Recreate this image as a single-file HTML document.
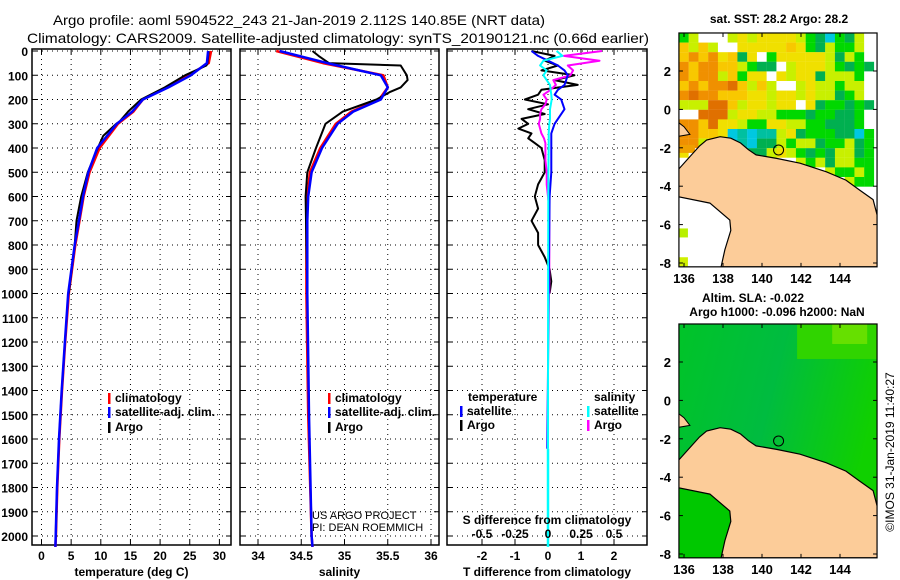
<!DOCTYPE html>
<html><head><meta charset="utf-8"><style>
body{margin:0;background:#fff}
svg{display:block}
text{font-family:"Liberation Sans",Arial,sans-serif;font-weight:bold;fill:#000}
</style></head><body>
<svg id="fig" width="900" height="580" viewBox="0 0 900 580" xmlns="http://www.w3.org/2000/svg">
<text x="299" y="25" font-size="14" text-anchor="middle" textLength="492" lengthAdjust="spacingAndGlyphs" style="font-weight:normal">Argo profile: aoml 5904522_243 21-Jan-2019 2.112S 140.85E (NRT data)</text>
<text x="338" y="43" font-size="14" text-anchor="middle" textLength="622" lengthAdjust="spacingAndGlyphs" style="font-weight:normal">Climatology: CARS2009. Satellite-adjusted climatology: synTS_20190121.nc (0.66d earlier)</text>
<g id="g"></g>
</svg>
<script>
// ---------- data ----------
const depthTicks=[0,100,200,300,400,500,600,700,800,900,1000,1100,1200,1300,1400,1500,1600,1700,1800,1900,2000];
const tTicks=[0,5,10,15,20,25,30];
const sTicks=[34,34.5,35,35.5,36];
const dTTicks=[-2,-1,0,1,2];
const dSTicks=[-0.5,-0.25,0,0.25,0.5];
const climTDepth=[0,50,100,150,200,250,300,400,500,600,700,800,1000,1200,1400,1600,1800,2000,2045];
const climT=[28.6,28.2,24.8,21.1,17.1,15.5,12.9,9.8,8.1,7.1,6.4,5.7,4.6,4.0,3.45,3.0,2.66,2.43,2.35];
const satT=[28.1,27.9,25.2,21.4,17.1,15.3,12.7,9.4,7.9,7.0,6.3,5.6,4.5,3.95,3.4,2.95,2.62,2.4,2.34];
const argoTDepth=[0,50,60,100,150,200,250,290,300,350,400,500,600,700,800,900,1000];
const argoT=[28.2,28.0,27.8,24.2,20.8,16.8,14.6,13.2,12.6,10.4,9.5,7.8,6.7,5.9,5.6,5.1,4.6];
const climSDepth=[0,50,100,150,200,250,300,400,500,600,700,1000,1500,2000,2045];
const climS=[34.21,34.75,35.45,35.5,35.4,35.08,34.9,34.72,34.6,34.57,34.56,34.56,34.58,34.62,34.63];
const satS=[34.25,34.8,35.42,35.5,35.42,35.1,34.92,34.74,34.62,34.58,34.57,34.57,34.59,34.62,34.63];
const argoSDepth=[0,20,50,60,100,120,150,170,200,250,300,400,500,600,800,1000];
const argoS=[34.63,34.7,34.82,35.65,35.72,35.73,35.65,35.52,35.37,34.98,34.78,34.67,34.57,34.55,34.56,34.57];
const dDepth=[0,20,40,60,80,100,120,140,160,180,200,220,240,260,280,300,320,340,360,380,400,450,500,550,600,650,700,750,800,850,900,950,1000];
const dTArgo=[-0.5,0.2,-0.1,0.3,-0.2,0.8,0.2,0.9,-0.2,-0.3,-0.7,0.0,-0.6,-0.1,-0.8,-0.6,-0.9,-0.5,-0.6,-0.4,-0.2,-0.1,-0.1,-0.3,-0.4,-0.3,-0.5,-0.3,-0.3,-0.1,0.05,0.1,0.05];
const dSArgo=[0.41,0.12,0.39,0.15,0.19,0.17,0.04,0.06,0.02,-0.035,-0.01,-0.02,-0.05,-0.06,-0.06,-0.07,-0.06,-0.05,-0.03,-0.02,-0.02,-0.02,-0.01,-0.01,0,0.01,0.01,0.01,0.01,0.01,0.01,0.01,0.01];
const dSatDepth=[0,20,40,60,80,100,140,160,180,200,240,280,300,340,400,500,600,1000,1640];
const dTSat=[-0.5,-0.3,0.0,0.3,0.5,0.6,0.5,0.3,0.2,0.4,0.5,0.3,0.2,0.1,0.1,0.1,0.05,0.02,-0.02];
const dSSat=[0.065,0.11,-0.035,-0.06,-0.01,-0.035,0.015,0.02,0.025,0.028,0.015,0.015,0.01,0.005,0.005,0.003,0.002,0.001,0];
const mapXTicks=[136,138,140,142,144];
const mapYTicks=[2,0,-2,-4,-6,-8];
const sstRows=["glwwwlylyyyylgGcgGlw","YlYlwwyyyyyYygGlgglw","YoYoyYGywgyyyyylGlgw","oYooYYlgGGwlyyylgGgG","oYoolYgyywylyyGlllgw","YoYooOYlYlwwlyllgllw","oOooYYYyylyylyllGglw","lllOOYlyylyywyGggGgG","wwOOOlyyllgggGggGGgw","ooYOyylggyyllggGGGgw","ooYYyctcttlyGgggGGcg","oolllctcGGlgllGgglGg","ywwwwwwGGlylgGgGllGg","wwwwwwwwwwwwlglGllgg","wwwwwwwwwwwwwwwlgglg","wwwwwwwwwwwwwwwwwlgg"];
const coast=[[135.74,-3.1],[136.3,-2.46],[136.8,-1.9],[137.16,-1.6],[137.85,-1.42],[138.4,-1.5],[138.9,-1.75],[139.3,-2.1],[139.7,-2.37],[140.75,-2.55],[141.95,-2.8],[143.3,-3.25],[144.3,-3.68],[145.0,-4.2],[145.7,-4.7],[145.9,-5.5],[145.9,-8.2],[137.9,-8.2],[138.1,-7.3],[138.4,-6.3],[138.35,-5.76],[137.33,-4.88],[135.74,-4.55]];
const island=[[135.74,-0.7],[136.0,-0.9],[136.3,-1.3],[135.74,-1.4]];
const floatPos=[140.85,-2.112];

// ---------- helpers ----------
const NS="http://www.w3.org/2000/svg";const G=document.getElementById('g');
function el(t,a,p){const e=document.createElementNS(NS,t);for(const k in a)e.setAttribute(k,a[k]);(p||G).appendChild(e);return e;}
function txt(x,y,s,sz,anchor,p){const e=el('text',{x:x,y:y,'font-size':sz,'text-anchor':anchor||'start'},p);e.textContent=s;return e;}
const TOP=49,BOT=545;
const yD=d=>TOP+2+d*0.2425;
const xT=v=>41.5+v*5.93;
const xS=v=>258+(v-34)*86.5;
const xDT=v=>548+v*33;
const xDS=v=>548+v*132;

function panel(x0,x1,name,vt,fx,labels,title){
  const g=el('g',{});
  
  
  for(const d of depthTicks){const l=el('line',{x1:x0,x2:x1,y1:yD(d),y2:yD(d),stroke:'#000','stroke-width':1,'stroke-dasharray':'1,4'},g);
    
    el('line',{x1:x0,x2:x0+5,y1:yD(d),y2:yD(d),stroke:'#000'},g);el('line',{x1:x1-5,x2:x1,y1:yD(d),y2:yD(d),stroke:'#000'},g);}
  vt.forEach((v,i)=>{const x=fx(v);const l=el('line',{x1:x,x2:x,y1:TOP,y2:BOT,stroke:'#000','stroke-width':1,'stroke-dasharray':'1,4'},g);
    
    el('line',{x1:x,x2:x,y1:TOP,y2:TOP+5,stroke:'#000'},g);el('line',{x1:x,x2:x,y1:BOT-5,y2:BOT,stroke:'#000'},g);
    if(labels){const t=txt(x,560,labels[i],12,'middle',g);}});
  const r=el('rect',{x:x0,y:TOP,width:x1-x0,height:BOT-TOP,fill:'none',stroke:'#000','stroke-width':1.5},g);
  
  const t=txt((x0+x1)/2,576,title,12,'middle',g);
  return g;
}
function line(g,xs,ds,fx,color,name,w){
  const pts=xs.map((v,i)=>fx(v).toFixed(1)+','+yD(ds[i]).toFixed(1)).join(' ');
  const p=el('polyline',{points:pts,fill:'none',stroke:color,'stroke-width':w||2.5,'stroke-linejoin':'round'},g);
  return p;
}
function legend(g,x,y,color,label){const r=el('rect',{x:x,y:y-9,width:2.5,height:11,fill:color},g);
  
  const t=txt(x+7,y,label,12,'start',g);}

for(const d of depthTicks){const t=txt(28,yD(d)+5,String(d),12,'end');}

const p1=panel(32,231,'temperature-panel',tTicks,xT,tTicks.map(String),'temperature (deg C)');
line(p1,climT,climTDepth,xT,'#f00','climatology-temperature-line');
line(p1,argoT,argoTDepth,xT,'#000','argo-temperature-line',2);
line(p1,satT,climTDepth,xT,'#00f','satellite-temperature-line');
legend(p1,108,402,'#f00','climatology');legend(p1,108,416,'#00f','satellite-adj. clim.');legend(p1,108,431,'#000','Argo');

const p2=panel(240,439,'salinity-panel',sTicks,xS,['34','34.5','35','35.5','36'],'salinity');
line(p2,climS,climSDepth,xS,'#f00','climatology-salinity-line');
line(p2,argoS,argoSDepth,xS,'#000','argo-salinity-line',2);
line(p2,satS,climSDepth,xS,'#00f','satellite-salinity-line');
legend(p2,328,402,'#f00','climatology');legend(p2,328,416,'#00f','satellite-adj. clim.');legend(p2,328,431,'#000','Argo');
let c1=txt(312,519,'US ARGO PROJECT',11,'start',p2);c1.style.fontWeight='normal';
let c2=txt(312,531,'PI: DEAN ROEMMICH',11,'start',p2);c2.style.fontWeight='normal';

const p3=panel(447,647,'difference-panel',dTTicks,xDT,dTTicks.map(String),'T difference from climatology');
line(p3,dTArgo,dDepth,xDT,'#000','argo-temperature-difference-line',2);
line(p3,dSArgo,dDepth,xDS,'#f0f','argo-salinity-difference-line',2);
line(p3,dTSat,dSatDepth,xDT,'#00f','satellite-temperature-difference-line',2);
line(p3,dSSat,dSatDepth,xDS,'#0ff','satellite-salinity-difference-line',2);
let sl=el('line',{x1:xDS(0),x2:xDS(0),y1:yD(1640),y2:yD(2045),stroke:'#0ff','stroke-width':2.5},p3);

let lt=txt(468,401,'temperature',12,'start',p3);
legend(p3,460,415,'#00f','satellite');legend(p3,460,429,'#000','Argo');
let ls=txt(594,401,'salinity',12,'start',p3);
legend(p3,587,415,'#0ff','satellite');legend(p3,587,429,'#f0f','Argo');
let st=txt(547,524,'S difference from climatology',12,'middle',p3);
dSTicks.forEach(v=>{const t=txt(xDS(v),538,String(v),12,'middle',p3);});

// ---------- maps ----------
const LON0=135.74,LON1=145.9,LAT0=3.98,LAT1=-8.2;
const mx=l=>684+(l-136)*19.5;
function map(off,name,kind){
  const g=el('g',{});
  const my=l=>off+71+(2-l)*19.2;
  const cid='clip'+off;const cp=el('clipPath',{id:cid},g);el('rect',{x:mx(LON0),y:my(LAT0),width:mx(LON1)-mx(LON0),height:my(LAT1)-my(LAT0)},cp);
  const inner=el('g',{'clip-path':'url(#'+cid+')'},g);
  if(kind==='sst'){
    el('rect',{x:mx(LON0),y:my(LAT0),width:200,height:240,fill:'#fff'},inner);
    const col={o:'#f09000',O:'#e07000',y:'#f0e000',Y:'#f8c800',l:'#c8f000',g:'#00d800',G:'#00b050',t:'#00c0a0',c:'#00c8e0',w:'#ffffff'};
    sstRows.forEach((r,i)=>{for(let j=0;j<r.length;j++){const cell=el('rect',{x:mx(LON0+j*0.5),y:my(LAT0-i*0.5),width:9.9,height:9.7,fill:col[r[j]]},inner);
      }});
    el('rect',{x:mx(LON0),y:my(-6.2),width:9,height:9,fill:'#b8f000'},inner);
    el('rect',{x:mx(LON0),y:my(-7.7),width:9,height:9,fill:'#d0f000'},inner);
    el('rect',{x:mx(LON0),y:my(-1.85),width:16,height:8,fill:'#f0a000'},inner);
  } else {
    const gr=el('linearGradient',{id:'sla',x1:0,y1:0,x2:1,y2:0.3},g);
    el('stop',{offset:'0','stop-color':'#00c428'},gr);el('stop',{offset:'0.5','stop-color':'#00bc40'},gr);el('stop',{offset:'1','stop-color':'#10d000'},gr);
    const b=el('rect',{x:mx(LON0),y:my(LAT0),width:200,height:240,fill:'url(#sla)'},inner);
    el('rect',{x:mx(141.8),y:my(LAT0),width:80,height:35,fill:'#30d400'},inner);
    el('rect',{x:mx(143.6),y:my(LAT0),width:35,height:20,fill:'#66e000'},inner);
    el('rect',{x:mx(LON0),y:my(-4.5),width:60,height:100,fill:'#00c800'},inner);
  }
  const toPts=a=>a.map(p=>mx(p[0]).toFixed(1)+','+my(p[1]).toFixed(1)).join(' ');
  const land=el('polygon',{points:toPts(coast),fill:'#fccc99',stroke:'#000','stroke-width':1.2},inner);
  const isl=el('polygon',{points:toPts(island),fill:'#fccc99',stroke:'#000','stroke-width':1},inner);
  const c=el('circle',{cx:mx(floatPos[0]),cy:my(floatPos[1]),r:5,fill:'none',stroke:'#000','stroke-width':1},g);
  const fr=el('rect',{x:mx(LON0),y:my(LAT0),width:mx(LON1)-mx(LON0),height:my(LAT1)-my(LAT0),fill:'none',stroke:'#000','stroke-width':1.2},g);
  mapXTicks.forEach(v=>{el('line',{x1:mx(v),x2:mx(v),y1:my(LAT1)-4,y2:my(LAT1),stroke:'#000'},g);el('line',{x1:mx(v),x2:mx(v),y1:my(LAT0),y2:my(LAT0)+4,stroke:'#000'},g);
    const t=txt(mx(v),my(LAT1)+16,String(v),13,'middle',g);});
  mapYTicks.forEach(v=>{el('line',{x1:mx(LON1)-4,x2:mx(LON1),y1:my(v),y2:my(v),stroke:'#000'},g);el('line',{x1:mx(LON0),x2:mx(LON0)+4,y1:my(v),y2:my(v),stroke:'#000'},g);
    const t=txt(671,my(v)+5,String(v),13,'end',g);});
  return g;
}
map(0,'sst-map','sst');
map(291,'sla-map','sla');
let m1=txt(779,23,'sat. SST: 28.2 Argo: 28.2',12,'middle');
let m2=txt(753,302,'Altim. SLA: -0.022',12,'middle');
let m3=txt(777,316,'Argo h1000: -0.096 h2000: NaN',12,'middle');
let cr=txt(0,0,'©IMOS 31-Jan-2019 11:40:27',12,'middle');cr.style.fontWeight='normal';cr.setAttribute('transform','translate(894,452) rotate(-90)');

</script>
</body></html>
